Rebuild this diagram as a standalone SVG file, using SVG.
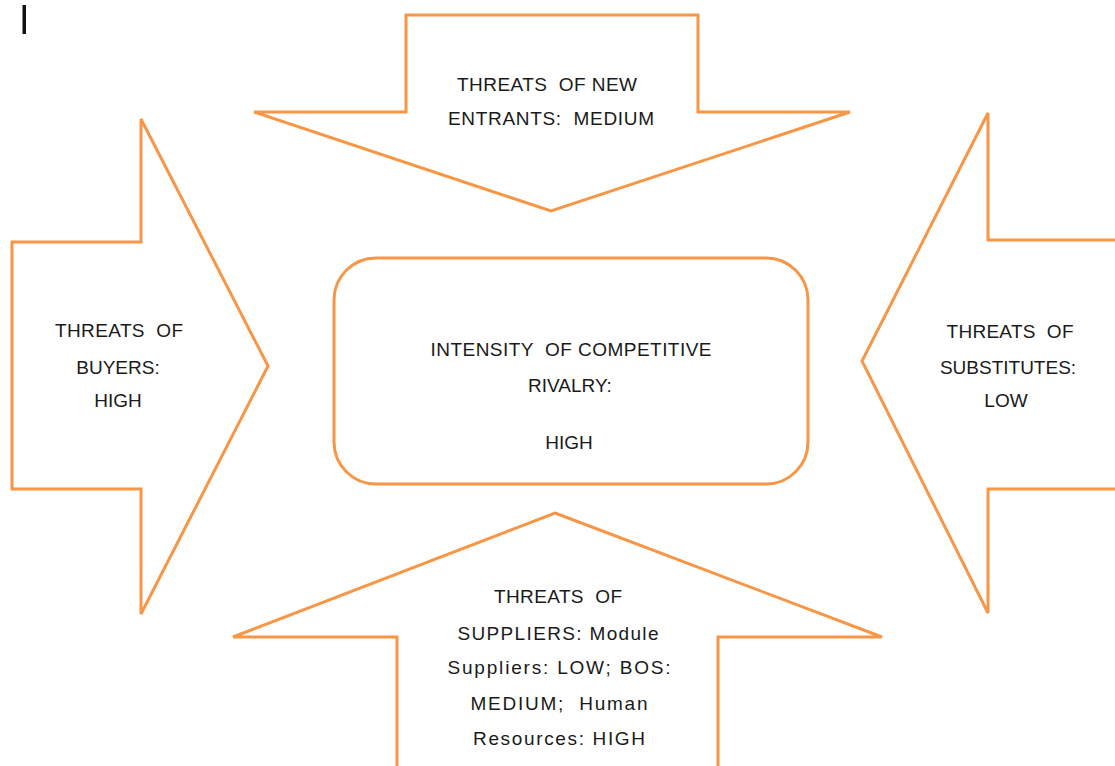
<svg xmlns="http://www.w3.org/2000/svg" width="1115" height="766" viewBox="0 0 1115 766">
  <style>
    .shape { fill: #ffffff; stroke: #F79646; stroke-width: 3; stroke-linejoin: miter; }
    .label { font-family: "Liberation Sans", Arial, sans-serif; font-size: 19px; fill: #1a1a1a; text-anchor: middle; }
  </style>
  <rect width="1115" height="766" fill="#ffffff"/>

  <!-- text cursor mark, top left -->
  <rect x="22.5" y="5" width="3.5" height="29" fill="#111111"/>

  <!-- force arrows pointing at the centre box (no separate connectors) -->
  <g id="connectors"></g>

  <g id="new-entrants">
    <polygon class="shape" points="406,15 698,15 698,112 850,112 551,211 254,112 406,112"/>
    <text class="label" x="547" y="91" textLength="180" lengthAdjust="spacing" xml:space="preserve">THREATS  OF NEW</text>
    <text class="label" x="551" y="125" textLength="206" lengthAdjust="spacing" xml:space="preserve">ENTRANTS:  MEDIUM</text>
  </g>

  <g id="buyers">
    <polygon class="shape" points="12,242 141,242 141,119 268,366 141,614 141,489 12,489"/>
    <text class="label" x="119" y="337" textLength="128" lengthAdjust="spacing" xml:space="preserve">THREATS  OF</text>
    <text class="label" x="118" y="374">BUYERS:</text>
    <text class="label" x="118" y="407">HIGH</text>
  </g>

  <g id="substitutes">
    <polygon class="shape" points="1120,240 988,240 988,113 862,361 988,613 988,489 1120,489"/>
    <text class="label" x="1010" y="338" textLength="127" lengthAdjust="spacing" xml:space="preserve">THREATS  OF</text>
    <text class="label" x="1008" y="374">SUBSTITUTES:</text>
    <text class="label" x="1006" y="407">LOW</text>
  </g>

  <g id="suppliers">
    <polygon class="shape" points="555,513 882,637 718,637 718,772 397,772 397,637 233,637"/>
    <text class="label" x="558" y="603" textLength="128" lengthAdjust="spacing" xml:space="preserve">THREATS  OF</text>
    <text class="label" x="558" y="640" textLength="201" lengthAdjust="spacing">SUPPLIERS: Module</text>
    <text class="label" x="559" y="674" textLength="223" lengthAdjust="spacing">Suppliers: LOW; BOS:</text>
    <text class="label" x="559" y="710" textLength="177" lengthAdjust="spacing" xml:space="preserve">MEDIUM;  Human</text>
    <text class="label" x="559" y="745" textLength="172" lengthAdjust="spacing">Resources: HIGH</text>
  </g>

  <g id="rivalry">
    <rect class="shape" x="334" y="258" width="474" height="226" rx="42" ry="42"/>
    <text class="label" x="571" y="356" textLength="281" lengthAdjust="spacing" xml:space="preserve">INTENSITY  OF COMPETITIVE</text>
    <text class="label" x="570" y="392">RIVALRY:</text>
    <text class="label" x="569" y="449">HIGH</text>
  </g>
</svg>
